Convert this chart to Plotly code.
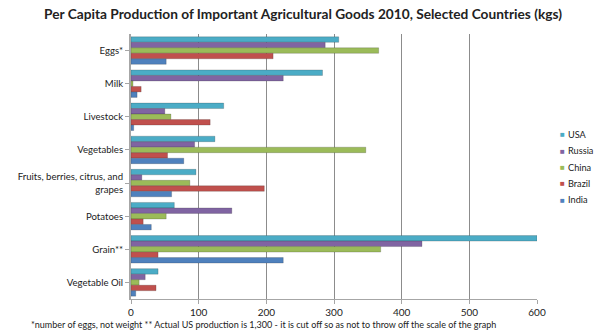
import plotly.graph_objects as go

categories = ["Eggs*", "Milk", "Livestock", "Vegetables",
              "Fruits, berries, citrus, and<br>grapes", "Potatoes", "Grain**", "Vegetable Oil"]
countries = ["USA", "Russia", "China", "Brazil", "India"]
colors = ["#4BACC6", "#8064A2", "#9BBB59", "#C0504D", "#4F81BD"]

usa = [307, 283, 137, 124, 96, 64, 600, 40]
russia = [287, 225, 50, 94, 16, 149, 430, 21]
china = [366, 3, 59, 347, 87, 52, 369, 12]
brazil = [210, 15, 117, 54, 197, 18, 40, 37]
india = [52, 9, 4, 78, 60, 30, 225, 7]
series = [usa, russia, china, brazil, india]

tick_vals = [0, 100, 200, 300, 400, 500, 600]

font_family = "Lato, Open Sans, sans-serif"

fig = go.Figure()
for name, vals, col in zip(countries, series, colors):
    fig.add_trace(go.Bar(
        y=categories, x=vals, name=name, orientation="h", showlegend=False,
        marker=dict(color=col, line=dict(color="rgba(40,40,40,0.35)", width=0.6)),
    ))

# custom legend (small square markers + names), placed in the right margin
annotations = []
leg_top = 0.622
leg_step = 0.062
for i, (name, col) in enumerate(zip(countries, colors)):
    yy = leg_top - i * leg_step
    annotations.append(dict(text="■", xref="paper", yref="paper", x=1.062, y=yy,
                            xanchor="center", yanchor="middle", showarrow=False,
                            font=dict(size=8, color=col)))
    annotations.append(dict(text=name, xref="paper", yref="paper", x=1.071, y=yy,
                            xanchor="left", yanchor="middle", showarrow=False,
                            font=dict(family=font_family, size=9.2, color="#222222")))

annotations.append(dict(
    text="*number of eggs, not weight ** Actual US production is 1,300 - it is cut off so as not to throw off the scale of the graph",
    xref="paper", yref="paper", x=-0.252, y=-0.098, xanchor="left", yanchor="middle",
    showarrow=False, font=dict(family=font_family, size=9, color="#222222")))

fig.update_layout(
    width=600, height=331,
    margin=dict(l=131, r=63, t=34, b=32, autoexpand=False),
    paper_bgcolor="white", plot_bgcolor="white",
    barmode="group", bargap=0.17, bargroupgap=0.0,
    title=dict(text="<b>Per Capita Production of Important Agricultural Goods 2010, Selected Countries (kgs)</b>",
               x=0.505, xanchor="center", y=0.958, yanchor="middle",
               font=dict(family=font_family, size=13.7, color="#222222")),
    font=dict(family=font_family, size=10, color="#222222"),
    xaxis=dict(range=[0, 600], tickvals=tick_vals, showgrid=True, gridcolor="#8c8c8c",
               gridwidth=1, showline=True, linecolor="#a6a6a6", ticks="outside",
               ticklen=4, tickcolor="#a6a6a6", zeroline=False,
               tickfont=dict(size=10, color="#222222")),
    yaxis=dict(autorange="reversed", showline=True, linecolor="#a6a6a6", linewidth=2,
               ticks="outside", ticklen=4, tickcolor="#a6a6a6",
               tickfont=dict(size=9.6, color="#222222")),
    annotations=annotations,
)

fig.write_html("out.html")
